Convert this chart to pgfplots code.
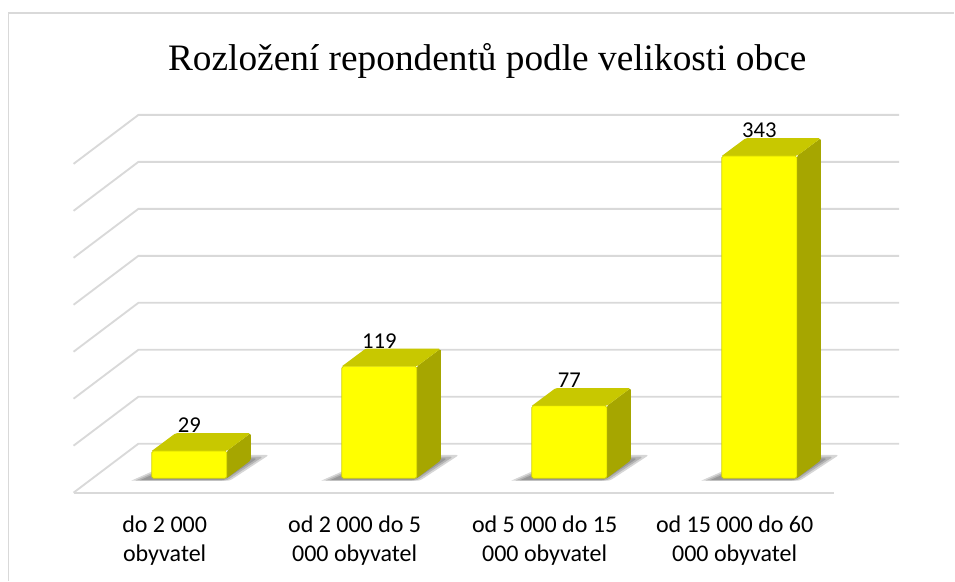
\documentclass[border=0pt]{standalone}
\usepackage{fontspec}
\setmainfont{Carlito}
\newfontfamily\titlefont{Liberation Serif}
\usepackage{pgfplots}
\usepackage{pgfplotstable}
\pgfplotsset{compat=1.18}
\definecolor{gridgray}{HTML}{D9D9D9}
\definecolor{barfront}{HTML}{FFFF00}
\definecolor{baredge}{HTML}{D2D200}
\definecolor{bartop}{HTML}{C8C800}
\definecolor{barside}{HTML}{A6A600}

% back wall + left wall line of one gridline (value offset added below)
\pgfplotstableread{
x y
-0.6092 -15.4
-0.2679 36.7
3.736 36.7
}\gridshape
% bar faces, relative to bar centre and bar value
\pgfplotstableread{
dx dy
-0.1975 0
0.1975 0
0.3235 19
-0.0715 19
-0.1975 0
}\topface
\pgfplotstableread{
dx k dy
0.1975 0 0
0.3235 0 19
0.3235 1 19
0.1975 1 0
0.1975 0 0
}\sideface
\pgfplotstableread{
dx dy
-0.2836 -2.5
0.1975 -2.5
0.3887 22.9
0.3200 22.9
0.0000 22.9
}\shadowshape

\newcommand{\barfaces}[2]{
  \addplot[fill=barside, draw=none, rounded corners=1.2pt, forget plot]
    table[x expr=\thisrow{dx}+#1, y expr=\thisrow{k}*#2+\thisrow{dy}] {\sideface};
  \addplot[fill=bartop, draw=none, rounded corners=1.2pt, forget plot]
    table[x expr=\thisrow{dx}+#1, y expr=\thisrow{dy}+#2] {\topface};
}
\newcommand{\barshadow}[2]{
  \addplot[fill=black, fill opacity=0.16, draw=none, rounded corners=2pt, forget plot]
    table[x expr=\thisrow{dx}*#2+#1, y expr=\thisrow{dy}*#2] {\shadowshape};
}

\begin{document}
\begin{tikzpicture}
\begin{axis}[
  scale only axis, width=716.25pt, height=435.75pt,
  xmin=-0.9963, xmax=4.0268, ymin=-109.04, ymax=509.04,
  clip=false,
  axis x line=bottom, hide y axis,
  x axis line style={draw=none, -},
  xtick={0,1,2,3}, major tick length=0pt,
  xticklabels={{do 2~000\\obyvatel},{od 2~000 do 5\\000 obyvatel},{od 5~000 do 15\\000 obyvatel},{od 15~000 do 60\\000 obyvatel}},
  x tick label style={align=center, font=\fontsize{18}{21.75}\selectfont, xshift=-18.5pt, yshift=52.5pt},
  /pgf/number format/assume math mode=true,
  title={\titlefont Rozložení repondentů podle velikosti obce},
  title style={at={(0.5105,0.9)}, anchor=center, yshift=-8pt, font=\fontsize{28}{30}\selectfont},
]
\path (rel axis cs:0,0) rectangle (rel axis cs:1,1);
% frame
\addplot[gridgray, line width=0.9pt, forget plot] coordinates {(-0.9533,-109.04) (-0.9533,495.2) (4.0268,495.2)};
% grid
\pgfplotsinvokeforeach{0,50,100,150,200,250,300,350}{
  \addplot[gridgray, line width=1.4pt, line join=round, forget plot]
    table[x=x, y expr=\thisrow{y}+#1] {\gridshape};
}
\addplot[gridgray, line width=1.4pt, forget plot] coordinates {(-0.6092,-15.4) (3.3929,-15.4)};
% shadows
\pgfplotsinvokeforeach{0,1,2,3}{
  \barshadow{#1}{1.08}
  \barshadow{#1}{1.0}
  \barshadow{#1}{0.92}
}
% 3d faces
\barfaces{0}{29}
\barfaces{1}{119}
\barfaces{2}{77}
\barfaces{3}{343}
% front of bars with the value labels
\addplot[ybar, bar width=0.395, fill=barfront, draw=baredge, line width=0.5pt, rounded corners=1.2pt,
  nodes near coords,
  every node near coord/.append style={anchor=center, yshift=19.2pt, font=\fontsize{17}{18}\selectfont, text=black}]
  coordinates {(0,29) (1,119) (2,77) (3,343)};
\end{axis}
\end{tikzpicture}
\end{document}
